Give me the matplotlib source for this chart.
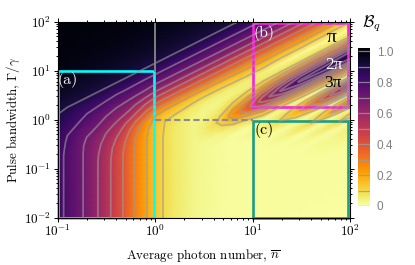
import matplotlib
matplotlib.use('Agg')
import matplotlib.pyplot as plt
from matplotlib.patches import Rectangle
import numpy as np

plt.rcParams['font.family'] = ['cmr10', 'DejaVu Serif']
plt.rcParams['mathtext.fontset'] = 'cm'
plt.rcParams['axes.formatter.use_mathtext'] = True
plt.rcParams['axes.unicode_minus'] = False

# log10(nbar) of each table column
u_vals = [-1, -.9, -.8, -.7, -.6, -.5, -.4, -.3, -.2, -.1, 0, .1, .2, .3, .4, .5,
          .65, .8, .95, 1.1, 1.3, 1.5, 1.7, 1.85, 2]
# log10(Gamma/nbar) of each table row, the stripes run along these
v_vals = [3, 2.5, 2, 1.75, 1.5, 1.3, 1.15, 1, .85, .7, .57, .45, .3, .2, .05, -.15, -.3, -.45,
          -.6, -.7, -.8, -.95, -1.1, -1.2, -1.3, -1.4, -1.5, -1.58, -1.67, -1.79, -1.93, -2.05,
          -2.2, -2.5, -3, -4]

top = [1, 1, .985, .97, .95, .925]

# B_q, one list per column of u_vals
columns = [
    top + [.905, .89, .875, .86, .85, .84, .83, .83, .83] + [.83] * 21,
    top + [.90, .87, .85, .82, .80, .79, .785, .78, .78] + [.78] * 21,
    top + [.90, .86, .82, .80, .76, .745, .735, .73, .73] + [.73] * 21,
    top + [.90, .85, .81, .77, .74, .715, .695, .685, .68] + [.68] * 21,
    top + [.90, .85, .80, .75, .73, .70, .66, .64, .625, .612] + [.61] * 20,
    top + [.90, .845, .79, .74, .70, .665, .62, .595, .565, .545, .538] + [.535] * 19,
    top + [.90, .84, .78, .725, .68, .645, .585, .55, .51, .47, .46] + [.455] * 19,
    top + [.90, .84, .78, .72, .66, .615, .54, .49, .435, .395, .38] + [.375] * 19,
    top + [.90, .84, .775, .71, .64, .57, .49, .425, .35, .30, .29] + [.285] * 19,
    top + [.90, .84, .77, .70, .62, .53, .43, .37, .27, .22, .212] + [.21] * 19,
    top + [.90, .84, .77, .69, .60, .50, .39, .30, .19, .145, .14] + [.14] * 19,
    top + [.90, .84, .77, .69, .60, .50, .38, .29, .17, .10, .095] + [.09] * 19,
    top + [.90, .84, .77, .69, .60, .50, .38, .29, .16, .085, .065] + [.06] * 19,
    top + [.90, .84, .77, .69, .60, .50, .38, .29, .155, .075, .05, .046] + [.045] * 18,
    top + [.90, .84, .77, .69, .60, .50, .38, .29, .15, .06, .04, .035, .032] + [.03] * 17,
    top + [.90, .84, .77, .69, .60, .50, .38, .29, .15, .05, .03, .035, .045, .05, .04, .025] + [.022] * 14,
    top + [.90, .84, .77, .69, .60, .50, .38, .29, .15, .05, .03, .05, .09, .11, .08, .03, .02] + [.015] * 13,
    top + [.90, .84, .77, .69, .60, .50, .38, .29, .16, .05, .04, .10, .21, .25, .19, .06, .015] + [.01] * 13,
    top + [.90, .84, .77, .69, .60, .50, .38, .29, .17, .05, .05, .15, .32, .38, .30, .10, .015, .015, .02] + [.01] * 11,
    top + [.90, .84, .77, .69, .60, .50, .38, .29, .18, .04, .07, .23, .46, .55, .44, .18, .02, .03, .04, .02] + [.01] * 10,
    top + [.90, .84, .77, .69, .60, .50, .38, .29, .17, .02, .08, .31, .60, .72, .57, .21, .02, .07, .11, .06,
           .01, .02, .03, .01, .01, .01, .01, .008, .008, .005],
    top + [.90, .84, .77, .69, .60, .50, .38, .29, .17, .015, .09, .35, .69, .82, .66, .25, .02, .14, .21, .12,
           .01, .04, .07, .01, .02, .01, .01, .008, .008, .005],
    top + [.90, .84, .77, .69, .60, .50, .38, .29, .16, .01, .10, .37, .72, .85, .69, .27, .02, .26, .42, .25,
           .02, .09, .14, .015, .05, .01, .02, .01, .008, .005],
    top + [.90, .84, .77, .69, .60, .50, .38, .29, .15, .01, .10, .38, .75, .88, .71, .28, .02, .36, .56, .34,
           .03, .15, .24, .02, .09, .01, .03, .01, .008, .005],
    top + [.90, .84, .77, .69, .60, .50, .38, .29, .15, .01, .10, .40, .77, .90, .73, .30, .02, .42, .68, .40,
           .03, .22, .36, .03, .14, .015, .05, .012, .008, .005],
]

levels = [.1, .2, .3, .4, .5, .6, .7, .8, .9]
bar_lines = [0, .1, .2, .3, .4, .5, .6, .7, .8, .9, 1.0]
bar_ticks = [0, .2, .4, .6, .8, 1.0]
bar_labels = ['0', '0.2', '0.4', '0.6', '0.8', '1.0']

W, H = 415., 265.
fig = plt.figure(figsize=(4.15, 2.65), dpi=100)
ax = fig.add_axes([57.5 / W, 1 - 217.5 / H, 292.5 / W, 195.8 / H])
cax = fig.add_axes([358 / W, 1 - 206 / H, 12 / W, 157.7 / H])

U, V = np.meshgrid(u_vals, v_vals)
X = 10. ** U
Y = 10. ** (V + U)
Z = np.array(columns).T

mesh = ax.pcolormesh(X, Y, Z, shading='gouraud', cmap='inferno_r', vmin=0, vmax=1.02, rasterized=True)
ax.contour(X, Y, Z, levels=levels, colors='#9a9a9a', linewidths=1.3, alpha=.6)
ax.set_xscale('log')
ax.set_yscale('log')
ax.set_xlim(.1, 100)
ax.set_ylim(.01, 100)

# guide lines
ax.plot([1, 1], [10, 100], color='#808080', lw=1.4)
ax.plot([1, 10], [1, 1], color='#8c8c8c', lw=1.5, ls=(0, (3, 1.6)))

# boxes
ax.add_patch(Rectangle((.1, .01), .87, 9.99, fill=False, ec='#00ffff', lw=1.9, clip_on=False))
ax.add_patch(Rectangle((10, 1.8), 85, 91, fill=False, ec='#ff1fdf', lw=1.9, clip_on=False))
ax.add_patch(Rectangle((10, .01), 85, .94, fill=False, ec='#1a9e85', lw=1.9, clip_on=False))

ax.tick_params(which='both', top=True, right=True, direction='out', labelsize=9.5, width=.7)
ax.tick_params(which='major', length=3)
ax.tick_params(which='minor', length=1.6)
ax.tick_params(axis='x', pad=1)
ax.tick_params(axis='y', pad=2)
ax.set_xticks([.1, 1, 10, 100])
ax.set_yticks([.01, .1, 1, 10, 100])
ax.set_xlabel(r'Average photon number, $\overline{n}$', fontsize=9.3, labelpad=6)
ax.set_ylabel(r'Pulse bandwidth, $\Gamma/\gamma$', fontsize=9.3, labelpad=1)

# panel labels
fig.text(67.5 / W, 1 - 80 / H, '(a)', color='white', fontsize=11.5, ha='center', va='center')
fig.text(264 / W, 1 - 33 / H, '(b)', color='white', fontsize=11.5, ha='center', va='center')
fig.text(264 / W, 1 - 130 / H, '(c)', color='black', fontsize=11.5, ha='center', va='center')
fig.text(332 / W, 1 - 38 / H, 'π', color='black', fontsize=14, ha='center', va='center', family='Liberation Serif')
fig.text(334 / W, 1 - 65 / H, '2π', color='white', fontsize=12.5, ha='center', va='center', family='Liberation Serif')
fig.text(333 / W, 1 - 83 / H, '3π', color='black', fontsize=12.5, ha='center', va='center', family='Liberation Serif')
fig.text(372 / W, 1 - 24 / H, r'$\mathcal{B}_q$', color='black', fontsize=12, ha='center', va='center')

cb = fig.colorbar(mesh, cax=cax)
cb.outline.set_visible(False)
cb.set_ticks(bar_ticks)
cb.set_ticklabels(bar_labels)
cax.hlines(bar_lines, 0, 1, colors='#9a9a9a', linewidths=.9, alpha=.8, transform=cax.get_yaxis_transform())
cax.tick_params(length=0, pad=5, labelcolor='#808080', labelsize=8.5)
for t in cax.get_yticklabels():
    t.set_family('Liberation Sans')

fig.savefig('out.png', dpi=100)
